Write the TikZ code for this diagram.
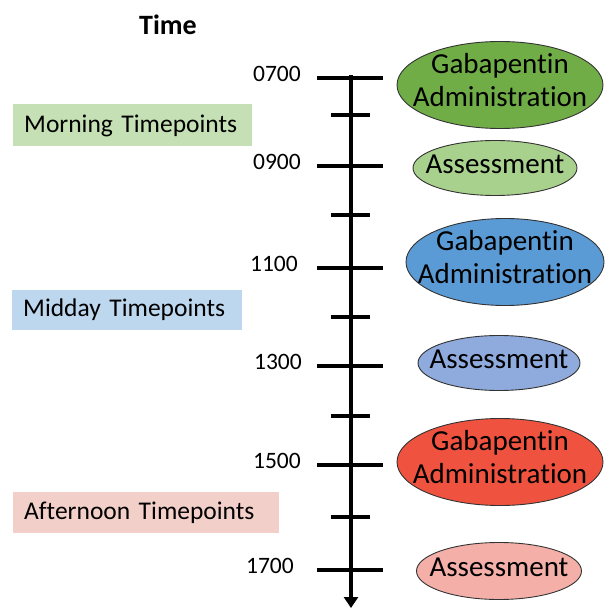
\documentclass[tikz,border=0pt]{standalone}
\usepackage{fontspec}
\setmainfont{Carlito}[Ligatures=NoCommon]
\usetikzlibrary{shapes.geometric,arrows.meta}

\definecolor{dosegreen}{HTML}{70AD47}
\definecolor{testgreen}{HTML}{A9D18E}
\definecolor{doseblue}{HTML}{5B9BD5}
\definecolor{testblue}{HTML}{8FAADC}
\definecolor{dosered}{HTML}{EF533F}
\definecolor{testred}{HTML}{F4B0A8}
\definecolor{morningbg}{HTML}{C5E0B4}
\definecolor{middaybg}{HTML}{BDD7EE}
\definecolor{afternoonbg}{HTML}{F2CFC8}

\begin{document}
\begin{tikzpicture}
  [x=1pt, y=-1pt,
   dose/.style={ellipse, draw=black!80, line width=0.9pt,
                inner xsep=-60pt, inner ysep=-30pt, text depth=10pt,
                minimum width=206pt, minimum height=87pt, align=center,
                font=\fontsize{29}{33}\selectfont},
   test/.style={ellipse, draw=black!80, line width=0.9pt,
                inner xsep=-60pt, inner ysep=-20pt, text depth=8pt,
                minimum width=164pt, minimum height=55pt,
                font=\fontsize{29}{33}\selectfont},
   period/.style={anchor=west, inner xsep=11pt, minimum height=42pt,
                  align=left, font=\fontsize{25.5}{30}\selectfont},
   clock/.style={anchor=east, inner sep=0pt, font=\fontsize{23.5}{27}\selectfont},
   tick/.style={line width=3.6pt}]
  \useasboundingbox (0,0) rectangle (605,609);

  \node[font=\fontsize{28}{33}\selectfont\bfseries] (title) at (168,25) {Time};

  \coordinate (top) at (351,75);
  \coordinate (bottom) at (351,608);
  \draw[line width=3.4pt, -{Triangle[width=14pt,length=11pt]}] (top) -- (bottom);

  \foreach \y/\t/\r in {78/0700/301, 166/0900/301, 268/1100/298,
                        366/1300/302, 465/1500/301, 570/1700/294} {
    \draw[tick] (317,\y) -- (383,\y);
    \node[clock] (t\t) at (\r,\y-4) {\t};
  }
  \foreach \y in {115,215,317,416,517}
    \draw[tick] (331,\y) -- (370,\y);

  \node[period, fill=morningbg, text width=217pt] (morning) at (13,125.5) {Morning Timepoints};
  \node[period, fill=middaybg, text width=208pt, minimum height=40pt] (midday) at (12,310) {Midday Timepoints};
  \node[period, fill=afternoonbg, text width=244pt, minimum height=41pt] (afternoon) at (13,512.5) {Afternoon Timepoints};

  \node[dose, fill=dosegreen] (dose1) at (500,85) {Gabapentin\\Administration};
  \node[test, fill=testgreen] (test1) at (495,168) {Assessment};
  \node[dose, fill=doseblue, minimum width=198pt] (dose2) at (505,262) {Gabapentin\\Administration};
  \node[test, fill=testblue, minimum width=162pt] (test2) at (499,363) {Assessment};
  \node[dose, fill=dosered] (dose3) at (500,462) {Gabapentin\\Administration};
  \node[test, fill=testred, minimum width=165pt, minimum height=57pt] (test3) at (499,571) {Assessment};
\end{tikzpicture}
\end{document}
